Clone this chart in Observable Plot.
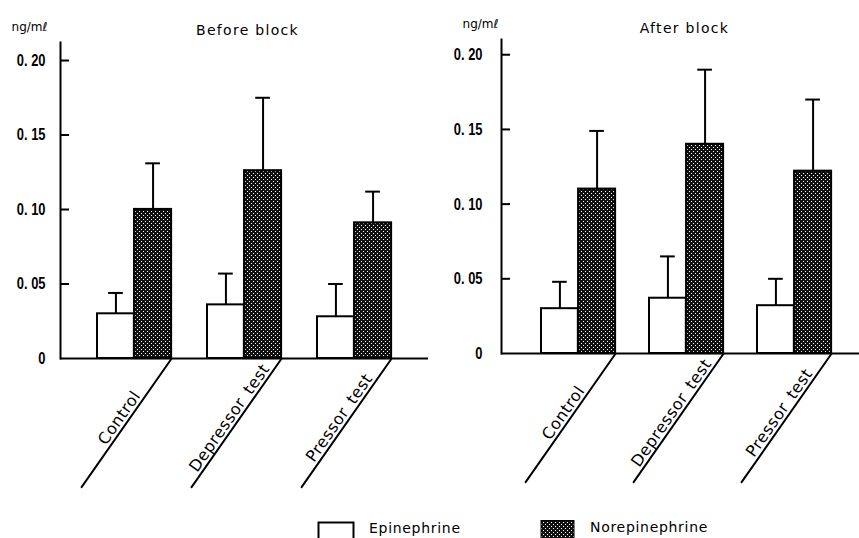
<!DOCTYPE html>
<html>
<head>
<meta charset="utf-8">
<script src="https://cdn.jsdelivr.net/npm/d3@7"></script>
<script src="https://cdn.jsdelivr.net/npm/@observablehq/plot@0.6"></script>
<style>
  html, body { margin: 0; padding: 0; background: #fff; overflow: hidden; }
  #fig { position: relative; width: 859px; height: 538px; overflow: hidden; }
  #fig > svg, #fig > div { position: absolute; }
  g[aria-label="y-axis tick label"] text { font-weight: bold; }
  .legend text { font-family: "DejaVu Sans", sans-serif; font-size: 14px; letter-spacing: 0.7px; }
</style>
</head>
<body>
<div id="fig"></div>
<script>
// Plasma catecholamines (ng/ml), mean and upper SE whisker, per test condition
const tests = ["Control", "Depressor test", "Pressor test"];
const testLabels = ["Control", "Depressor\u2002test", "Pressor\u2002test"];
const series = ["Epinephrine", "Norepinephrine"];
const yTicks = [0, 0.05, 0.10, 0.15, 0.20];

const beforeEpi = [0.030, 0.036, 0.028];
const beforeEpiSe = [0.014, 0.021, 0.022];
const beforeNorepi = [0.100, 0.126, 0.091];
const beforeNorepiSe = [0.031, 0.049, 0.021];

const afterEpi = [0.030, 0.037, 0.032];
const afterEpiSe = [0.018, 0.028, 0.018];
const afterNorepi = [0.110, 0.140, 0.122];
const afterNorepiSe = [0.039, 0.050, 0.048];

const fig = document.getElementById("fig");

// Shared stipple fill for norepinephrine bars
const defs = d3.create("svg").attr("width", 0).attr("height", 0).style("left", "0px").style("top", "0px");
const pat = defs.append("defs").append("pattern")
  .attr("id", "stipple").attr("patternUnits", "userSpaceOnUse")
  .attr("width", 4).attr("height", 4);
pat.append("rect").attr("width", 4).attr("height", 4).attr("fill", "#111");
pat.append("rect").attr("x", 1).attr("y", 1).attr("width", 1).attr("height", 1).attr("fill", "#fff");
pat.append("rect").attr("x", 3).attr("y", 3).attr("width", 1).attr("height", 1).attr("fill", "#fff");
fig.appendChild(defs.node());

// Plain stroke for the slanted category leaders
const leader = {draw(context, l) { context.moveTo(0, 0); context.lineTo(0, -l); }};

const fmt = d => d === 0 ? "0" : d3.format(".2f")(d).replace(".", ". ");

// Narrow the tick labels horizontally (right-aligned, so scale about the anchor)
function condenseTickLabels(svg, k) {
  d3.select(svg).selectAll('g[aria-label="y-axis tick label"] text').each(function() {
    const t = d3.select(this);
    const tr = t.attr("transform");
    if (tr) {
      t.attr("transform", `${tr} scale(${k},1)`);
    } else {
      const x = +t.attr("x") || 0, y = +t.attr("y") || 0;
      t.attr("x", null).attr("y", null).attr("transform", `translate(${x},${y}) scale(${k},1)`);
    }
  });
}

// Letter spacing for given strings
function spaceText(svg, strings, px) {
  d3.select(svg).selectAll("text")
    .filter(function() { return strings.includes(this.textContent); })
    .style("letter-spacing", px + "px");
}

function panel(o) {
  const rows = tests.map((t, i) => ({
    test: t,
    label: testLabels[i],
    epi: o.epi[i], epiTop: o.epi[i] + o.epiSe[i],
    nor: o.nor[i], norTop: o.nor[i] + o.norSe[i]
  }));
  const n = tests.length;
  const step = (o.xRange[1] - o.xRange[0]) / (n - o.padding);
  const bw = step * (1 - o.padding);
  const cap = 7.5;
  const L = o.leaderLength;
  const ang = o.leaderAngle; // degrees clockwise from north
  const half = L / 2;
  const rad = (ang - 180) * Math.PI / 180;
  const midDx = -half * Math.sin(rad);
  const midDy = half * Math.cos(rad);
  const textRotate = -(90 - (ang - 180));

  const chart = Plot.plot({
    width: o.width,
    height: 538,
    marginLeft: o.marginLeft,
    marginRight: o.marginRight,
    marginTop: o.marginTop,
    marginBottom: o.marginBottom,
    style: {fontFamily: "'Liberation Sans', Arial, sans-serif", fontSize: "17px", color: "#000", background: "transparent", overflow: "visible"},
    x: {type: "band", domain: tests, range: o.xRange, paddingInner: o.padding, paddingOuter: 0, axis: null},
    y: {domain: [0, o.yMax], axis: null},
    marks: [
      Plot.barY(rows, {x: "test", y: "epi", fill: "white", stroke: "black", strokeWidth: 2, insetRight: bw / 2}),
      Plot.barY(rows, {x: "test", y: "nor", fill: "url(#stipple)", stroke: "black", strokeWidth: 2.2, insetLeft: bw / 2}),
      Plot.ruleX(rows, {x: "test", y1: "epi", y2: "epiTop", dx: -bw / 4, strokeWidth: 2}),
      Plot.ruleX(rows, {x: "test", y1: "nor", y2: "norTop", dx: bw / 4, strokeWidth: 2}),
      Plot.tickY(rows, {x: "test", y: "epiTop", insetLeft: bw / 4 - cap, insetRight: 3 * bw / 4 - cap, strokeWidth: 2}),
      Plot.tickY(rows, {x: "test", y: "norTop", insetLeft: 3 * bw / 4 - cap, insetRight: bw / 4 - cap, strokeWidth: 2}),
      Plot.ruleY([0], {strokeWidth: 2}),
      Plot.frame({anchor: "left", strokeWidth: 2}),
      Plot.axisY({ticks: yTicks.slice(1), tickSize: -9, tickPadding: o.tickPadding, tickFormat: fmt, strokeWidth: 2, label: null}),
      Plot.axisY({ticks: [0], tickSize: 0, tickPadding: o.tickPadding - 9, tickFormat: fmt, label: null}),
      Plot.vector(rows, {x: "test", y: () => 0, dx: bw / 2, anchor: "start", length: L, rotate: ang, shape: leader, stroke: "black", strokeWidth: 2}),
      Plot.text(rows, {
        x: "test", y: () => 0, text: "label",
        dx: bw / 2 + midDx - 3, dy: midDy - 2,
        rotate: textRotate, textAnchor: "middle", lineAnchor: "bottom",
        fontFamily: "'DejaVu Sans', sans-serif", fontSize: 16
      }),
      Plot.text([o.title], {
        text: d => d, frameAnchor: "top", dx: o.titleDx, dy: o.titleDy,
        fontFamily: "'DejaVu Sans', sans-serif", fontSize: 14
      }),
      Plot.text(["ng/m\u2113"], {
        text: d => d, frameAnchor: "top-left", dx: o.unitDx, dy: o.unitDy, textAnchor: "middle",
        fontFamily: "'DejaVu Sans', sans-serif", fontSize: 12
      })
    ]
  });
  condenseTickLabels(chart, 0.76);
  spaceText(chart, [o.title], 1.3);
  spaceText(chart, testLabels, 0.5);
  chart.style.left = o.left + "px";
  chart.style.top = "0px";
  fig.appendChild(chart);
}

panel({
  title: "Before block",
  epi: beforeEpi, epiSe: beforeEpiSe, nor: beforeNorepi, norSe: beforeNorepiSe,
  left: 0, width: 430, marginLeft: 60, marginRight: 2, marginTop: 42, marginBottom: 180,
  yMax: 0.2121, xRange: [96, 392], padding: 0.33,
  leaderLength: 157, leaderAngle: 215,
  tickPadding: 24, titleDx: 3, titleDy: -17, unitDx: -31, unitDy: -20
});

panel({
  title: "After block",
  epi: afterEpi, epiSe: afterEpiSe, nor: afterNorepi, norSe: afterNorepiSe,
  left: 430, width: 429, marginLeft: 71, marginRight: 0, marginTop: 39, marginBottom: 185,
  yMax: 0.2102, xRange: [110, 402], padding: 0.317,
  leaderLength: 157, leaderAngle: 215,
  tickPadding: 28, titleDx: 4, titleDy: -16, unitDx: -21, unitDy: -20
});

// Legend below the panels
const legend = d3.create("svg").attr("class", "legend")
  .attr("width", 420).attr("height", 30)
  .style("left", "300px").style("top", "515px");
legend.append("rect").attr("x", 18.5).attr("y", 7.5).attr("width", 35).attr("height", 24)
  .attr("fill", "white").attr("stroke", "black").attr("stroke-width", 2);
legend.append("text").attr("x", 69).attr("y", 18).text(series[0]);
legend.append("rect").attr("x", 241).attr("y", 5.5).attr("width", 33).attr("height", 24)
  .attr("fill", "url(#stipple)").attr("stroke", "black").attr("stroke-width", 1);
legend.append("text").attr("x", 290).attr("y", 17).text(series[1]);
fig.appendChild(legend.node());
</script>
</body>
</html>
